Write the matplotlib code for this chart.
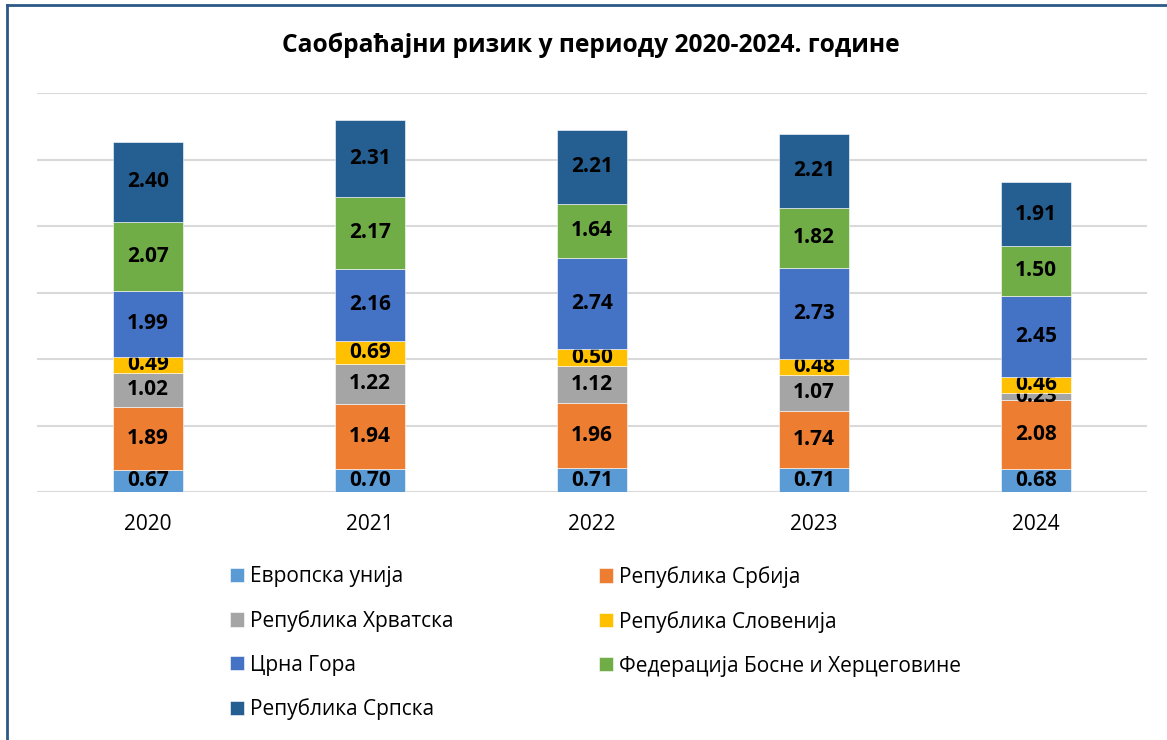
import numpy as np
import matplotlib.pyplot as plt
from matplotlib.lines import Line2D

plt.rcParams['font.family'] = ['Open Sans', 'DejaVu Sans']

years = ["2020", "2021", "2022", "2023", "2024"]
series = ["Европска унија", "Република Србија", "Република Хрватска",
          "Република Словенија", "Црна Гора",
          "Федерација Босне и Херцеговине", "Република Српска"]
eu = [0.67, 0.70, 0.71, 0.71, 0.68]
srbija = [1.89, 1.94, 1.96, 1.74, 2.08]
hrvatska = [1.02, 1.22, 1.12, 1.07, 0.23]
slovenija = [0.49, 0.69, 0.50, 0.48, 0.46]
cg = [1.99, 2.16, 2.74, 2.73, 2.45]
fbih = [2.07, 2.17, 1.64, 1.82, 1.50]
rs = [2.40, 2.31, 2.21, 2.21, 1.91]
values = [eu, srbija, hrvatska, slovenija, cg, fbih, rs]
colors = ["#5B9BD5", "#ED7D31", "#A5A5A5", "#FFC000", "#4472C4",
          "#70AD47", "#255E91"]

fig = plt.figure(figsize=(11.67, 7.4), dpi=100)
ax = fig.add_axes([37 / 1167, 1 - 492 / 740, 1110 / 1167, 399 / 740])

x = np.arange(len(years))
bottom = np.zeros(len(years))
handles = []
for name, vals, c in zip(series, values, colors):
    bars = ax.bar(x, vals, 0.315, bottom=bottom, color=c, label=name,
                  edgecolor="white", linewidth=0.4, zorder=3)
    ax.bar_label(bars, labels=["%.2f" % v for v in vals], label_type="center",
                 fontsize=15, fontweight="bold", color="black")
    bottom += np.array(vals)
    handles.append(bars)

ax.set_xlim(-0.5, 4.5)
ax.set_ylim(0, 12)
ax.set_yticks(np.arange(0, 13, 2))
ax.yaxis.grid(True, color="#D9D9D9", linewidth=1.5, zorder=0)
ax.tick_params(axis="y", left=False, labelleft=False)
ax.tick_params(axis="x", length=0, labelsize=15, pad=16)
ax.set_xticks(x)
ax.set_xticklabels(years)
for s in ax.spines.values():
    s.set_visible(False)

fig.text(0.506, 1 - 45 / 740, "Саобраћајни ризик у периоду 2020-2024. године",
         ha="center", va="center", fontsize=17.7, fontweight="bold")

# legend, filled row by row in two columns
left_h = [handles[i] for i in (0, 2, 4, 6)]
right_h = [handles[i] for i in (1, 3, 5)]
kw = dict(frameon=False, fontsize=15, handlelength=0.67, handleheight=0.67,
          handletextpad=0.3, labelspacing=1.1, borderpad=0, borderaxespad=0,
          loc="upper left")
fig.legend(left_h, [series[i] for i in (0, 2, 4, 6)],
           bbox_to_anchor=(230 / 1167, 1 - 566 / 740), **kw)
fig.legend(right_h, [series[i] for i in (1, 3, 5)],
           bbox_to_anchor=(599 / 1167, 1 - 566 / 740), **kw)

# frame of the chart area
fig.add_artist(Line2D([7 / 1167, 7 / 1167], [0, 1 - 5 / 740],
                      transform=fig.transFigure, color="#2B5A86", linewidth=2))
fig.add_artist(Line2D([7 / 1167, 1], [1 - 5 / 740, 1 - 5 / 740],
                      transform=fig.transFigure, color="#2B5A86", linewidth=2))

fig.savefig("out.png", dpi=100)
